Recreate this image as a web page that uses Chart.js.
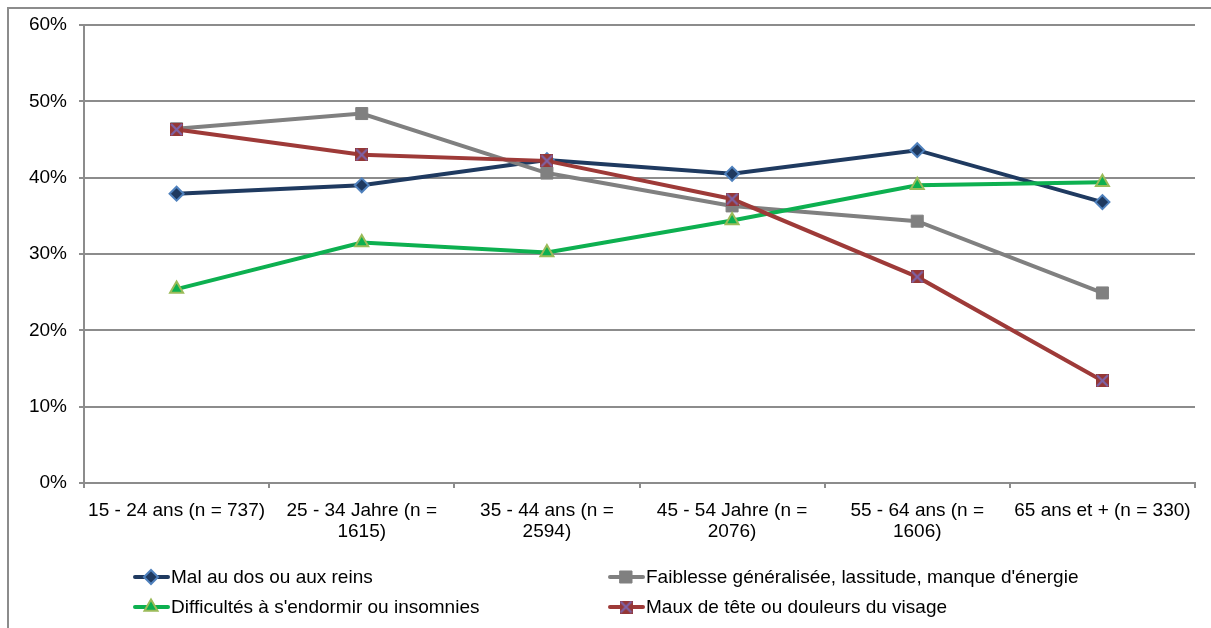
<!DOCTYPE html>
<html lang="fr">
<head>
<meta charset="UTF-8">
<title>Symptômes par âge</title>
<script src="https://cdn.jsdelivr.net/npm/chart.js"></script>
<style>
    html, body { margin: 0; padding: 0; background: #fff; }
    #wrap { position: relative; width: 1211px; height: 628px; }
</style>
</head>
<body>
<div id="wrap"><canvas id="myChart"></canvas></div>
<script>
    const categories = [
        "15 - 24 ans (n = 737)",
        ["25 - 34 Jahre (n =", "1615)"],
        ["35 - 44 ans (n =", "2594)"],
        ["45 - 54 Jahre (n =", "2076)"],
        ["55 - 64 ans (n =", "1606)"],
        "65 ans et + (n = 330)"
    ];
    const seriesNames = [
        "Mal au dos ou aux reins",
        "Faiblesse généralisée, lassitude, manque d'énergie",
        "Difficultés à s'endormir ou insomnies",
        "Maux de tête ou douleurs du visage"
    ];
    const malDos = [37.9, 39.0, 42.3, 40.5, 43.6, 36.8];
    const faiblesse = [46.4, 48.4, 40.6, 36.3, 34.3, 24.9];
    const insomnies = [25.4, 31.5, 30.2, 34.4, 39.0, 39.4];
    const mauxTete = [46.3, 43.0, 42.2, 37.2, 27.0, 13.4];
    const yTicks = [0, 10, 20, 30, 40, 50, 60];

    const police = '"Liberation Sans", Arial, sans-serif';

    // marqueur carré rouge avec croix violette (style Excel)
    function crossMarker() {
        const c = document.createElement('canvas');
        c.width = 13; c.height = 13;
        const g = c.getContext('2d');
        g.fillStyle = '#953735';
        g.fillRect(0, 0, 13, 13);
        g.strokeStyle = '#7E63A8';
        g.lineWidth = 2.2;
        g.beginPath();
        g.moveTo(1, 1); g.lineTo(12, 12);
        g.moveTo(12, 1); g.lineTo(1, 12);
        g.stroke();
        return c;
    }
    const xMark = crossMarker();

    const datasets = [
        {
            label: seriesNames[0], data: malDos, order: 4,
            borderColor: '#1F3A60', borderWidth: 4,
            pointStyle: 'rectRot', pointRadius: 7, pointBorderWidth: 2,
            pointBackgroundColor: '#1F3A60', pointBorderColor: '#4F81BD'
        },
        {
            label: seriesNames[1], data: faiblesse, order: 3,
            borderColor: '#808080', borderWidth: 4,
            pointStyle: 'rect', pointRadius: 8.5, pointBorderWidth: 1,
            pointBackgroundColor: '#808080', pointBorderColor: '#808080'
        },
        {
            label: seriesNames[2], data: insomnies, order: 2,
            borderColor: '#0DB050', borderWidth: 4,
            pointStyle: 'triangle', pointRadius: 7.5, pointBorderWidth: 2,
            pointBackgroundColor: '#0DB050', pointBorderColor: '#9BBB59'
        },
        {
            label: seriesNames[3], data: mauxTete, order: 1,
            borderColor: '#9E3A38', borderWidth: 4,
            pointStyle: xMark, pointRadius: 7, pointBorderWidth: 0,
            pointBackgroundColor: '#953735', pointBorderColor: '#953735'
        }
    ];

    // cadre + légende dessinés à la main
    const cadreLegende = {
        id: 'cadreLegende',
        beforeDraw(chart) {
            const ctx = chart.ctx;
            ctx.save();
            ctx.strokeStyle = '#8c8c8c';
            ctx.lineWidth = 2;
            ctx.beginPath();
            ctx.moveTo(8, 628); ctx.lineTo(8, 8); ctx.lineTo(1211, 8);
            ctx.stroke();
            ctx.restore();
        },
        afterDraw(chart) {
            const ctx = chart.ctx;
            const pos = [[135, 577], [610, 577], [135, 607], [610, 607]];
            ctx.save();
            chart.data.datasets.forEach(function (ds, i) {
                const x = pos[i][0], y = pos[i][1];
                ctx.strokeStyle = ds.borderColor;
                ctx.lineWidth = 4;
                ctx.lineCap = 'round';
                ctx.beginPath();
                ctx.moveTo(x, y); ctx.lineTo(x + 33, y);
                ctx.stroke();
                ctx.fillStyle = ds.pointBackgroundColor;
                ctx.strokeStyle = ds.pointBorderColor;
                ctx.lineWidth = ds.pointBorderWidth;
                Chart.helpers.drawPoint(ctx, {
                    pointStyle: ds.pointStyle, radius: ds.pointRadius,
                    borderWidth: ds.pointBorderWidth, rotation: 0
                }, x + 16, y);
                ctx.fillStyle = '#000';
                ctx.font = '19px ' + police;
                ctx.textBaseline = 'middle';
                ctx.textAlign = 'left';
                ctx.fillText(ds.label, x + 36, y + 1);
            });
            ctx.restore();
        }
    };

    new Chart(document.getElementById('myChart'), {
        type: 'line',
        data: { labels: categories, datasets: datasets },
        options: {
            responsive: true,
            maintainAspectRatio: false,
            animation: false,
            layout: { padding: { top: 25, right: 16, left: 0, bottom: 0 } },
            plugins: {
                legend: { display: false },
                tooltip: { enabled: false }
            },
            scales: {
                x: {
                    offset: true,
                    afterFit(scale) { scale.height = 145; },
                    grid: {
                        offset: true, drawOnChartArea: false, drawTicks: true,
                        tickLength: 5, color: '#8c8c8c', lineWidth: 2
                    },
                    border: { color: '#8c8c8c', width: 2 },
                    ticks: {
                        color: '#000', padding: 12, maxRotation: 0, autoSkip: false,
                        font: { size: 19, family: police, lineHeight: 1.1 }
                    }
                },
                y: {
                    min: 0, max: 60,
                    afterFit(scale) { scale.width = 84; },
                    afterBuildTicks(scale) { scale.ticks = yTicks.map(v => ({ value: v })); },
                    grid: { color: '#8c8c8c', lineWidth: 2, tickLength: 5 },
                    border: { color: '#8c8c8c', width: 2 },
                    ticks: {
                        color: '#000', padding: 12,
                        font: { size: 19, family: police },
                        callback: v => v + '%'
                    }
                }
            }
        },
        plugins: [cadreLegende]
    });
</script>
</body>
</html>
